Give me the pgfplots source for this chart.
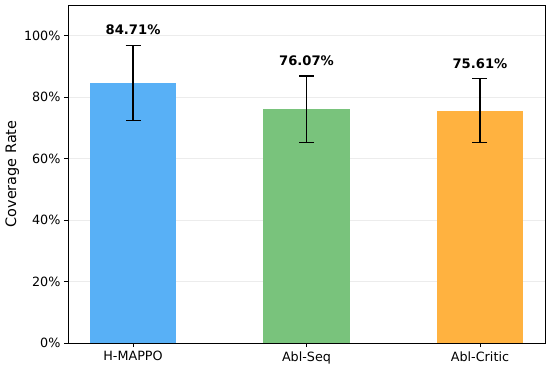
\documentclass[border=0pt]{standalone}
\usepackage{pgfplots}
\pgfplotsset{compat=1.18}
\usepackage{fontspec}
\setmainfont{DejaVu Sans}
\usetikzlibrary{calc}
\definecolor{cblue}{HTML}{58B0F6}
\definecolor{cgreen}{HTML}{79C37C}
\definecolor{corange}{HTML}{FFB240}
\begin{document}
\begin{tikzpicture}
\begin{axis}[
  scale only axis,
  width=477bp, height=338bp,
  xmin=-0.375, xmax=2.375,
  ymin=0, ymax=110,
  xtick={0,1,2},
  xticklabels={H-MAPPO,Abl-Seq,Abl-Critic},
  ytick={0,20,40,60,80,100},
  yticklabel={\pgfmathparse{\tick}\pgfmathprintnumber[fixed,precision=0]{\pgfmathresult}\%},
  /pgf/number format/assume math mode=true,
  tick align=outside,
  xtick pos=bottom, ytick pos=left,
  major tick length=4bp,
  tick style={black, line width=0.8pt},
  ymajorgrids,
  grid style={gray!15, line width=0.6pt},
  axis line style={black, line width=0.8pt},
  ticklabel style={font=\fontsize{12.8}{15}\selectfont},
  ylabel={Coverage Rate},
  ylabel style={font=\fontsize{14.5}{17}\selectfont, yshift=-2bp},
  xticklabel style={yshift=-1bp},
  bar width=0.5,
]
\addplot[ybar, bar shift=0, fill=cblue, draw=none,
  error bars/.cd, y dir=both, y explicit,
  error bar style={black, line width=1.2pt},
  error mark options={black, line width=1.2pt, mark size=7.5bp, rotate=90}]
  coordinates {(0,84.71) +- (0,12.2)};
\addplot[ybar, bar shift=0, fill=cgreen, draw=none,
  error bars/.cd, y dir=both, y explicit,
  error bar style={black, line width=1.2pt},
  error mark options={black, line width=1.2pt, mark size=7.5bp, rotate=90}]
  coordinates {(1,76.07) +- (0,10.8)};
\addplot[ybar, bar shift=0, fill=corange, draw=none,
  error bars/.cd, y dir=both, y explicit,
  error bar style={black, line width=1.2pt},
  error mark options={black, line width=1.2pt, mark size=7.5bp, rotate=90}]
  coordinates {(2,75.61) +- (0,10.4)};
\node[font=\bfseries\fontsize{13.2}{15}\selectfont, anchor=south] at (axis cs:0,99.2) {84.71\%};
\node[font=\bfseries\fontsize{13.2}{15}\selectfont, anchor=south] at (axis cs:1,89.0) {76.07\%};
\node[font=\bfseries\fontsize{13.2}{15}\selectfont, anchor=south] at (axis cs:2,88.1) {75.61\%};
\end{axis}
\pgfresetboundingbox
\path[use as bounding box] ($(current axis.south west)+(-68bp,-24bp)$) rectangle ($(current axis.north east)+(5bp,5bp)$);
\end{tikzpicture}
\end{document}
